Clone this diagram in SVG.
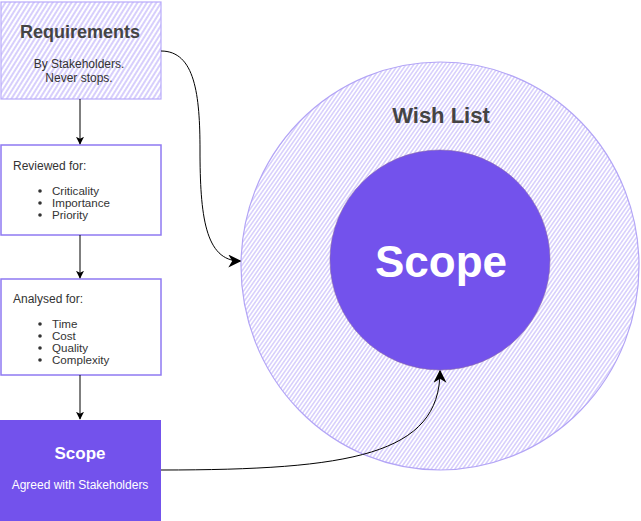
<svg xmlns="http://www.w3.org/2000/svg" width="641" height="521" viewBox="0 0 641 521">
<style>
text{font-family:"Liberation Sans",Arial,Helvetica,sans-serif;}
.dark{fill:#333333;}
.body{font-size:12px;}
.list{font-size:11.6px;}
.title{font-size:18px;font-weight:bold;}
.white{fill:#ffffff;}
.box{fill:#ffffff;stroke:#8f7af2;stroke-width:1.5;}
.conn{fill:none;stroke:#000000;stroke-width:1;}
</style>
<defs>
<pattern id="hatchBox" patternUnits="userSpaceOnUse" width="4" height="4" patternTransform="rotate(-58)">
<line x1="0" y1="2" x2="4" y2="2" stroke="#bcaefa" stroke-width="1.2"/>
</pattern>
<pattern id="hatchCircle" patternUnits="userSpaceOnUse" width="3.2" height="3.2" patternTransform="rotate(-55)">
<line x1="0" y1="1.6" x2="3.2" y2="1.6" stroke="#c2b5fa" stroke-width="1"/>
</pattern>
<marker id="arrow" viewBox="0 0 10 10" refX="9" refY="5" markerWidth="8" markerHeight="8" markerUnits="userSpaceOnUse" orient="auto">
<path d="M0,0 L10,5 L0,10 L2.5,5 Z" fill="#000000"/>
</marker>
<marker id="arrowBig" viewBox="0 0 10 10" refX="9" refY="5" markerWidth="13" markerHeight="13" markerUnits="userSpaceOnUse" orient="auto">
<path d="M0,0 L10,5 L0,10 L3,5 Z" fill="#000000"/>
</marker>
</defs>
<rect width="641" height="521" fill="#ffffff"/>

<g id="wishlist">
<ellipse cx="440" cy="266" rx="199" ry="204" fill="url(#hatchCircle)" stroke="#b3a5f6" stroke-width="1.2"/>
<text x="441" y="123" text-anchor="middle" font-size="22" font-weight="bold" fill="#444444">Wish List</text>
</g>

<g id="scope-circle">
<circle cx="440" cy="260" r="110" fill="#7352ec" stroke="#8a6aa8" stroke-width="0.6"/>
<text x="441" y="277" text-anchor="middle" font-size="44" font-weight="bold" class="white">Scope</text>
</g>

<g id="requirements">
<rect x="1" y="2" width="160" height="97" fill="url(#hatchBox)" stroke="#b8aafa" stroke-width="1.2"/>
<text x="80" y="38" text-anchor="middle" class="title" fill="#444444">Requirements</text>
<text x="79" y="68" text-anchor="middle" class="body dark">By Stakeholders.</text>
<text x="79" y="82" text-anchor="middle" class="body dark">Never stops.</text>
</g>

<g id="reviewed">
<rect x="1" y="145" width="160" height="90" class="box"/>
<text x="13" y="170" class="body dark">Reviewed for:</text>
<g class="dark">
<circle cx="40" cy="191" r="1.8"/>
<circle cx="40" cy="203" r="1.8"/>
<circle cx="40" cy="215" r="1.8"/>
</g>
<text x="52" y="195" class="list dark">Criticality</text>
<text x="52" y="207" class="list dark">Importance</text>
<text x="52" y="219" class="list dark">Priority</text>
</g>

<g id="analysed">
<rect x="1" y="279" width="160" height="96" class="box"/>
<text x="13" y="303" class="body dark">Analysed for:</text>
<g class="dark">
<circle cx="40" cy="324" r="1.8"/>
<circle cx="40" cy="336" r="1.8"/>
<circle cx="40" cy="348" r="1.8"/>
<circle cx="40" cy="360" r="1.8"/>
</g>
<text x="52" y="328" class="list dark">Time</text>
<text x="52" y="340" class="list dark">Cost</text>
<text x="52" y="352" class="list dark">Quality</text>
<text x="52" y="364" class="list dark">Complexity</text>
</g>

<g id="scope-box">
<rect x="0" y="420" width="161" height="101" fill="#7352ec"/>
<text x="80" y="459" text-anchor="middle" font-size="17" font-weight="bold" class="white">Scope</text>
<text x="80" y="489" text-anchor="middle" class="body white">Agreed with Stakeholders</text>
</g>

<g id="connectors">
<line x1="80" y1="99" x2="80" y2="144" class="conn" marker-end="url(#arrow)"/>
<line x1="80" y1="235" x2="80" y2="278" class="conn" marker-end="url(#arrow)"/>
<line x1="80" y1="375" x2="80" y2="419" class="conn" marker-end="url(#arrow)"/>
<path d="M161,51 C195,51 200,95 200,150 C200,215 205,261 240,261" class="conn" marker-end="url(#arrowBig)"/>
<path d="M161,470 C350,470 440,455 440,371" class="conn" marker-end="url(#arrowBig)"/>
</g>
</svg>
